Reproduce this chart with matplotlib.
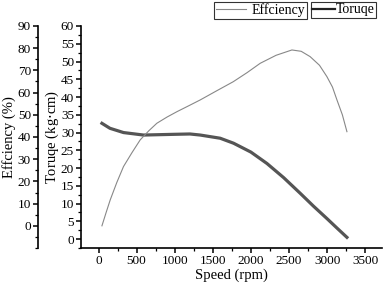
import matplotlib.pyplot as plt
from matplotlib.ticker import MultipleLocator

# -------------------------
# Data
# -------------------------
eff_speed = [45, 100, 154, 240, 328, 440, 547, 660, 766, 900, 1029, 1180, 1335,
             1550, 1768, 1950, 2122, 2330, 2538, 2660, 2777, 2900, 2997, 3070,
             3129, 3200, 3260]
efficiency = [0, 6, 11.7, 19.5, 26.7, 33, 38.7, 42.8, 46.2, 49, 51.4, 54, 56.7,
              60.8, 64.9, 69, 73.2, 76.8, 79.2, 78.6, 76.2, 72.3, 67.2, 62.5,
              56.7, 50, 42.4]

tq_speed = [45, 150, 328, 590, 984, 1200, 1335, 1597, 1772, 2000, 2210, 2430,
            2647, 2820, 2997, 3130, 3260]
torque = [32.6, 31.2, 30.0, 29.3, 29.5, 29.6, 29.3, 28.4, 27.0, 24.5, 21.3, 17.3,
          12.9, 9.3, 5.8, 3.1, 0.5]

plt.rcParams['font.family'] = ['Liberation Serif', 'DejaVu Serif']
plt.rcParams['font.size'] = 9.5

# -------------------------
# Figure setup
# -------------------------
fig = plt.figure(figsize=(3.86, 2.85), dpi=100)
ax = fig.add_axes([0.2098, 0.1298, 0.7798, 0.7790])
ax2 = ax.twinx()

l_tq, = ax.plot(tq_speed, torque, color='#555555', linewidth=2.3, label='Toruqe')
l_eff, = ax2.plot(eff_speed, efficiency, color='#888888', linewidth=0.8, label='Effciency')

ax.set_xlim(-230, 3720)
ax.set_ylim(-2.5, 60)
ax2.set_ylim(-10, 90)

for s in ['top', 'right']:
    ax.spines[s].set_visible(False)
for s in ['top', 'right', 'bottom']:
    ax2.spines[s].set_visible(False)
ax2.spines['left'].set_visible(True)
ax2.spines['left'].set_position(('axes', -0.143))
ax2.yaxis.set_ticks_position('left')
ax2.yaxis.set_label_position('left')

for a in (ax, ax2):
    for s in a.spines.values():
        s.set_linewidth(1.2)

ax.xaxis.set_major_locator(MultipleLocator(500))
ax.xaxis.set_minor_locator(MultipleLocator(250))
ax.yaxis.set_minor_locator(MultipleLocator(2.5))
ax2.yaxis.set_minor_locator(MultipleLocator(5))
ax.set_yticks(range(0, 61, 5))
ax2.set_yticks(range(0, 91, 10))

for a in (ax, ax2):
    a.tick_params(which='major', direction='out', length=3.5, width=1.1, pad=1.5,
                  labelsize=9.5)
    a.tick_params(which='minor', direction='out', length=2, width=0.9)

ax.set_xlabel('Speed (rpm)', fontsize=10.5, labelpad=1)
ax.set_ylabel('Toruqe (kg$\\cdot$cm)', fontsize=10.5, labelpad=0)
ax2.set_ylabel('Effciency (%)', fontsize=10.5, labelpad=1)

leg_kw = dict(frameon=True, fancybox=False, edgecolor='black', fontsize=10,
              handletextpad=0.4, borderpad=0.1, borderaxespad=0)
leg1 = fig.legend(handles=[l_eff], loc='upper right', handlelength=2.2,
                  bbox_to_anchor=(307 / 386, 1 - 2 / 285), **leg_kw)
leg2 = fig.legend(handles=[l_tq], loc='upper left', handlelength=1.6,
                  bbox_to_anchor=(311 / 386, 1 - 2 / 285),
                  **{**leg_kw, 'handletextpad': 0.1})
for lg in (leg1, leg2):
    lg.get_frame().set_linewidth(0.8)
leg2.get_lines()[0].set_color('#222222')
leg2.get_lines()[0].set_linewidth(1.6)

plt.savefig('out.png', dpi=100)
